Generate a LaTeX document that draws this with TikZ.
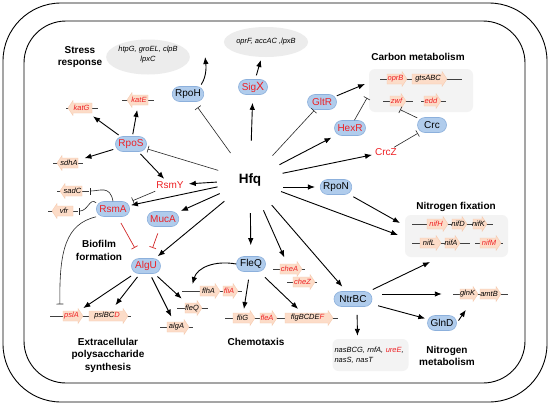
\documentclass[tikz,border=0pt]{standalone}
\usepackage{fontspec}
\setmainfont{Liberation Sans}
\usetikzlibrary{arrows.meta,shapes.geometric}
\definecolor{bluefill}{RGB}{176,204,236}
\definecolor{blueline}{RGB}{140,176,220}
\definecolor{txtred}{RGB}{238,32,36}
\definecolor{genefill}{RGB}{252,220,200}
\definecolor{geneline}{RGB}{246,200,172}
\definecolor{greyfill}{RGB}{236,236,236}
\definecolor{boxfill}{RGB}{243,243,243}
\definecolor{inhred}{RGB}{210,40,40}
\newcommand{\redt}[1]{\textcolor{txtred}{#1}}
\newcommand{\geneR}[5]{%
  \filldraw[genefill, draw=geneline, line width=0.3pt] (#2,#4-5) -- (#3-5,#4-5) -- (#3-5,#4-7.5) -- (#3,#4) -- (#3-5,#4+7.5) -- (#3-5,#4+5) -- (#2,#4+5) -- cycle;
  \node[genetxt] (#1) at ({(#2+#3)/2-1.5},#4) {#5};}
\newcommand{\geneL}[5]{%
  \filldraw[genefill, draw=geneline, line width=0.3pt] (#3,#4-5) -- (#2+5,#4-5) -- (#2+5,#4-7.5) -- (#2,#4) -- (#2+5,#4+7.5) -- (#2+5,#4+5) -- (#3,#4+5) -- cycle;
  \node[genetxt] (#1) at ({(#2+#3)/2+1.5},#4) {#5};}
\newcommand{\gbline}[3]{\draw[backbone] (#1,#3) -- (#2,#3);}
\begin{document}
\begin{tikzpicture}[x=1pt,y=-1pt,
  prot/.style={draw=blueline, fill=bluefill, rounded corners=7.5pt, minimum height=15pt, minimum width=29pt, inner xsep=3pt, inner ysep=0pt, font=\fontsize{10}{12}\selectfont, line width=0.6pt},
  rtxt/.style={text=txtred, font=\fontsize{10}{12}\selectfont, inner sep=1pt},
  sect/.style={font=\bfseries\fontsize{10}{12.5}\selectfont, align=center, inner sep=0pt},
  genetxt/.style={font=\itshape\fontsize{7.5}{9}\selectfont, inner xsep=1pt, inner ysep=4pt},
  backbone/.style={draw=black!75, line width=0.7pt},
  arr/.style={draw=black, line width=0.9pt, -{Latex[length=7pt,width=5.5pt]}},
  inh/.style={draw=black!85, line width=0.6pt, -{Bar[width=7pt]}},
  inhr/.style={inh, draw=inhred, line width=0.7pt},
  gbox/.style={fill=boxfill, rounded corners=6pt, inner sep=0pt},
  ell/.style={ellipse, fill=greyfill, inner sep=0pt, align=center, font=\itshape\fontsize{7.5}{10}\selectfont},
]
\useasboundingbox (0,0) rectangle (554,407);
\fill[white] (0,0) rectangle (554,407);
% cell frames
\draw[line width=0.9pt, rounded corners=58pt] (3,3) rectangle (547,402);
\draw[line width=0.9pt, rounded corners=42pt] (24,21) rectangle (525,383);
% grey containers
\node[ell, minimum width=73pt, minimum height=35pt] (ell1) at (148,57) {htpG, groEL, clpB\\lpxC\\[-4pt]};
\node[ell, minimum width=84pt, minimum height=30pt] (ell2) at (266,42) {oprF, accAC ,lpxB};
\node[gbox, minimum width=104pt, minimum height=43pt] (cbox) at (421,90.5) {};
\node[gbox, minimum width=103pt, minimum height=42pt] (nfbox) at (456.5,236) {};
\node[gbox, minimum width=76pt, minimum height=32pt, align=left, text width=72pt, font=\itshape\fontsize{7.5}{10}\selectfont] (nasbox) at (370.5,355) {nasBCG, rnfA, \redt{ureE},\\nasS, nasT};
% section labels
\node[sect] (lstress) at (80,57) {Stress\\response};
\node[sect] (lcarbon) at (418,57) {Carbon metabolism};
\node[sect] (lbiofilm) at (99,250.5) {Biofilm\\formation};
\node[sect] (lnfix) at (456,207) {Nitrogen fixation};
\node[sect] (leps) at (108,355) {Extracellular\\polysaccharide\\synthesis};
\node[sect] (lchemo) at (256,342) {Chemotaxis};
\node[sect] (lnmet) at (447,356) {Nitrogen\\metabolism};
% gene backbones
\gbline{66}{98}{108}
\gbline{122}{154}{100}
\gbline{53}{83}{163}
\gbline{57}{89}{191}
\gbline{48}{78}{211}
\gbline{380}{462}{79}
\gbline{383}{413}{101}
\gbline{421}{446}{101}
\gbline{412}{493}{224}
\gbline{412}{470}{243}
\gbline{475}{503}{243}
\gbline{273}{305}{269}
\gbline{287}{317}{282}
\gbline{182}{242}{291}
\gbline{177}{208}{308}
\gbline{50}{131}{316}
\gbline{160}{193}{327}
\gbline{225}{338}{318}
\gbline{453}{508}{294}
% genes
\geneL{katg}{68}{92}{108}{\redt{katG}}
\geneL{kate}{127}{148}{100}{\redt{katE}}
\geneL{sdha}{57}{78}{163}{sdhA}
\geneL{sadc}{60}{82}{191}{sadC}
\geneL{vfr}{52}{73}{211}{vfr}
\geneR{oprb}{387}{407}{79}{\redt{oprB}}
\geneR{gtsabc}{412}{447}{79}{gtsABC}
\geneR{zwf}{390}{406}{101}{\redt{zwf}}
\geneR{edd}{424}{441}{101}{\redt{edd}}
\geneR{nifh}{427}{448}{224}{\redt{nifH}}
\geneR{nifd}{452}{467}{224}{nifD}
\geneR{nifk}{473}{487}{224}{nifK}
\geneR{nifl}{420}{441}{243}{nifL}
\geneR{nifa}{445}{460}{243}{nifA}
\geneR{nifm}{480}{501}{243}{\redt{nifM}}
\geneR{chea}{280}{302}{269}{\redt{cheA}}
\geneR{chez}{293}{315}{282}{\redt{cheZ}}
\geneR{flha}{200}{220}{291}{flhA}
\geneR{flia}{223}{238}{291}{\redt{fliA}}
\geneR{fleqg}{185}{202}{308}{fleQ}
\geneR{psla}{63}{83}{316}{\redt{pslA}}
\geneR{pslbcd}{89}{128}{316}{pslBC\redt{D}}
\geneR{alga}{167}{189}{327}{algA}
\geneR{flig}{233}{255}{318}{fliG}
\geneR{flea}{260}{277}{318}{\redt{fleA}}
\geneR{flgb}{285}{333}{318}{flgBCDE\redt{F}}
\geneR{glnk}{460}{478}{294}{glnK}
\geneR{amtb}{480}{501}{294}{amtB}
% regulators
\node[circle, minimum size=66pt, inner sep=0pt, font=\bfseries\fontsize{13.5}{16}\selectfont] (hfq) at (250,180) {Hfq};
\node[prot] (rpoh) at (188,94) {RpoH};
\node[prot, text=txtred] (sigx) at (253,87) {Sig{\fontsize{12}{12}\selectfont X}};
\node[prot, text=txtred] (rpos) at (131,144) {RpoS};
\node[prot, text=txtred] (rsma) at (113,209) {RsmA};
\node[prot, text=txtred] (muca) at (163,219) {MucA};
\node[prot, text=txtred] (algu) at (146,266) {AlgU};
\node[prot] (fleq) at (251,264) {FleQ};
\node[prot, text=txtred] (gltr) at (322,102) {GltR};
\node[prot, text=txtred] (hexr) at (350,128) {HexR};
\node[prot] (crc) at (432,125) {Crc};
\node[prot] (rpon) at (336,187) {RpoN};
\node[prot, minimum width=38pt] (ntrbc) at (353,299) {NtrBC};
\node[prot] (glnd) at (442,323) {GlnD};
\node[rtxt] (rsmy) at (170,185) {RsmY};
\node[rtxt] (crcz) at (386,152) {CrcZ};
% free ends on boxes
\coordinate (nfin1) at (400,223);
\coordinate (nfin2) at (398,235);
\coordinate (nfin3) at (430,262);
\coordinate (cbin1) at (365,84);
\coordinate (cbin2) at (367,98);
% Hfq connectors
\draw[inh, shorten >=7pt] (hfq) -- (rpoh);
\draw[arr, shorten <=6pt, shorten >=8pt] (hfq) -- (sigx);
\draw[inh, shorten >=1pt] (hfq) -- (gltr);
\draw[arr, shorten >=4pt] (hfq) -- (hexr);
\draw[arr, shorten >=2pt] (hfq) -- (crcz);
\draw[arr, shorten >=5pt] (hfq.east |- rpon) -- (rpon);
\draw[arr] (hfq) -- (nfin2);
\draw[arr, shorten >=6pt] (hfq) -- (ntrbc);
\draw[arr, shorten >=5pt] (hfq) -- (chea);
\draw[arr, shorten >=11pt] (hfq) -- (fleq);
\draw[arr, shorten >=3pt] (hfq) -- (algu);
\draw[arr, shorten >=2pt] (hfq) -- (muca);
\draw[arr, shorten >=1pt] (hfq) -- (rsma);
\draw[arr, shorten >=4pt] (hfq) -- (rsmy);
\draw[inh, shorten >=1pt] (hfq) -- (rpos);
% stress
\draw[arr, shorten <=2pt] ([xshift=-4pt]rpoh.north east) .. controls (207,76) and (206,65) .. ([xshift=15pt]ell1.east);
\draw[arr, shorten <=4pt, shorten >=3pt] (sigx) -- (ell2);
\draw[arr, shorten <=2pt, shorten >=3pt] (rpos) -- (katg);
\draw[arr, shorten <=2pt, shorten >=3pt] (rpos) -- (kate);
\draw[arr, shorten <=2pt, shorten >=6pt] (rpos) -- (sdha);
\draw[arr, shorten <=3pt, shorten >=2pt] (rpos) -- (rsmy);
% biofilm
\draw[inh, shorten <=4pt, shorten >=3pt] (rsmy) -- (rsma);
\draw[inh, shorten >=7.5pt] (rsma.north) .. controls (110,185) and (100,191) .. (sadc.east);
\draw[inh, shorten >=10pt] (rsma.160) .. controls (90,197) and (88,211) .. (vfr.east);
\draw[inh, shorten >=4pt] (rsma.south west) .. controls (66,224) and (59,250) .. ([xshift=-3pt]psla.north west);
\draw[inhr, shorten <=7pt, shorten >=12pt] (rsma.-60) -- (algu.125);
\draw[inhr, shorten <=7pt, shorten >=11pt] (muca.-110) -- (algu.70);
\draw[arr, shorten <=4pt, shorten >=4pt] (algu) -- (psla);
\draw[arr, shorten <=4pt, shorten >=4pt] (algu) -- (pslbcd);
\draw[arr, shorten <=4pt, shorten >=3pt] (algu) -- (alga);
\draw[arr, shorten <=4pt, shorten >=3pt] (algu) -- (fleqg);
% chemotaxis
\draw[arr] (fleq.west) .. controls (214,260) and (197,268) .. ([xshift=-16pt]flha.north);
\draw[arr, shorten <=8pt, shorten >=2pt] (fleq) -- (flig);
\draw[arr, shorten <=8pt, shorten >=2pt] (fleq) -- ([xshift=-8pt]flgb.north);
% carbon
\draw[arr] (gltr) -- (cbin1);
\draw[inh] (hexr) -- (cbin2);
\draw[inh, shorten >=4pt] (crc) -- (zwf.south);
\draw[inh, shorten >=1pt] (crcz) -- (crc);
% nitrogen
\draw[arr, shorten <=4pt] (rpon) -- (nfin1);
\draw[arr, shorten <=4pt] (ntrbc) -- (nfin3);
\draw[arr, shorten <=10pt, shorten >=17pt] (ntrbc.east |- glnk) -- (glnk);
\draw[arr, shorten <=6pt, shorten >=2pt] (ntrbc) -- (glnd);
\draw[arr, shorten <=3pt, shorten >=10pt] (glnd.east) -- ([xshift=4pt]glnk.south);
\draw[arr, shorten <=8pt, shorten >=3pt] ([xshift=4pt]ntrbc.south) -- ([xshift=-13pt]nasbox.north);
\end{tikzpicture}
\end{document}
